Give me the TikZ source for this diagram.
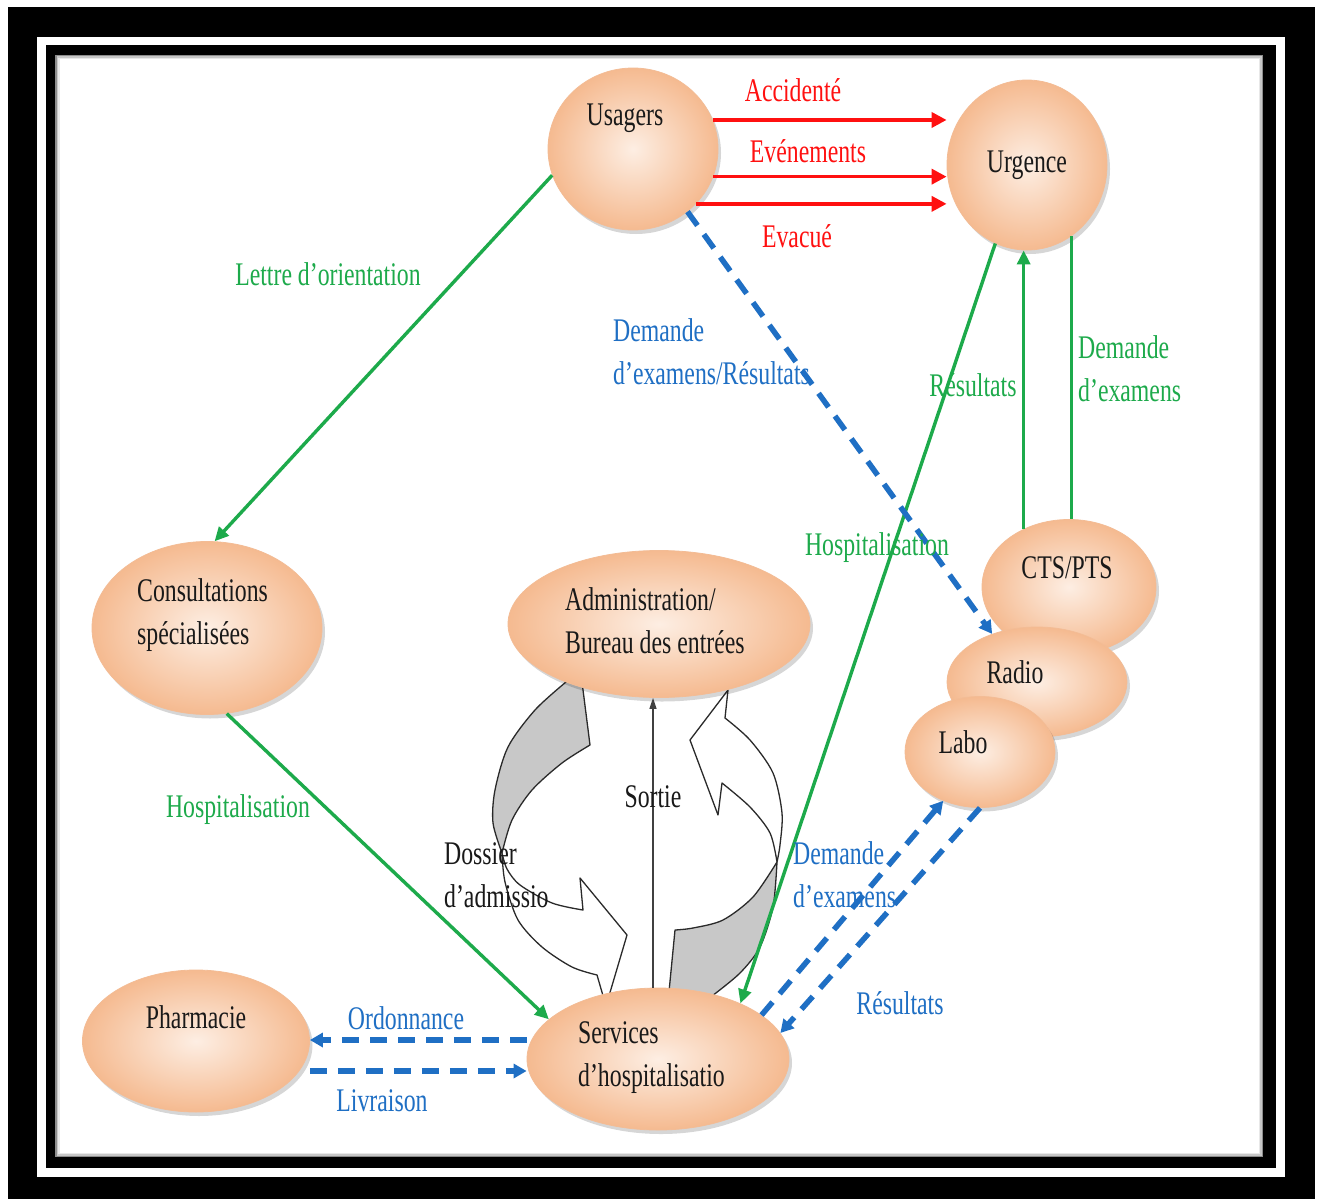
\documentclass[tikz,border=0pt]{standalone}
\usepackage{fontspec}
\setmainfont{Liberation Serif}[FakeStretch=0.72]
\usetikzlibrary{shapes.geometric,arrows.meta,shadows}

\definecolor{peachin}{HTML}{FDEEE3}
\definecolor{peachout}{HTML}{F5BA90}
\definecolor{peachrim}{HTML}{F3BC95}
\definecolor{flowgreen}{HTML}{1DAA4B}
\definecolor{flowblue}{HTML}{1F6FC4}
\definecolor{flowred}{HTML}{FF1010}
\definecolor{cyclegray}{HTML}{C8C8C8}
\definecolor{cycleline}{HTML}{2A2A2A}

\begin{document}
\begin{tikzpicture}[x=1pt,y=-1pt,
  blob/.style={ellipse, draw=peachrim, line width=0.8pt,
    inner color=peachin, outer color=peachout, inner sep=0pt,
    drop shadow={shadow xshift=3pt, shadow yshift=-4pt, opacity=0.16, fill=black}},
  txt/.style={font=\fontsize{33}{43}\selectfont, inner sep=0pt, align=left, text=black!90},
  redtxt/.style={txt, text=flowred},
  greentxt/.style={txt, text=flowgreen},
  bluetxt/.style={txt, text=flowblue},
  redflow/.style={draw=flowred, line width=3.6pt, -{Triangle[length=15pt,width=15pt]}},
  greenflow/.style={draw=flowgreen, line width=3.4pt, -{Triangle[length=14pt,width=13pt]}},
  greenplain/.style={draw=flowgreen, line width=3.4pt},
  blueflow/.style={draw=flowblue, line width=5.5pt, dash pattern=on 17pt off 11pt,
    -{Triangle[length=13pt,width=14pt]}},
  cyc/.style={draw=cycleline, line width=1.3pt, line join=round},
  sortie/.style={draw=black!75, line width=1.3pt, -{Triangle[length=11pt,width=7pt]}}
]
\useasboundingbox (0,0) rectangle (1322,1199);
\fill[white] (0,0) rectangle (1322,1199);

% double black frame
\fill[black] (8,7) rectangle (1315,1199);
\fill[white] (37,37) rectangle (1285,1177);
\fill[black] (46,45) rectangle (1276,1168);
\fill[white] (55,55) rectangle (1263,1157);
\foreach \d/\c in {0.75/45,2.25/22,3.75/9}
  \draw[black!\c, line width=1.5pt] (55+\d,55+\d) rectangle (1263-\d,1157-\d);

% circular arrows between the admission office and the wards
\draw[cyc, fill=cyclegray]
  plot[smooth] coordinates {(590,745) (562,763) (532,790) (512,820) (502,853)}
  -- plot[smooth] coordinates {(502,853) (493,823) (495,790) (508,747) (535,710) (566,682)}
  -- (582,682) -- cycle;
\draw[cyc, fill=white]
  plot[smooth] coordinates {(502,853) (507,869) (520,885) (552,903) (583,910)}
  -- (580,878) -- (627,935) -- (606,1006) -- (597,975)
  -- plot[smooth] coordinates {(597,975) (572,967) (542,947) (518,920) (505,882) (502,853)}
  -- cycle;
\draw[cyc, fill=white]
  (728,690) -- (725,718)
  -- plot[smooth] coordinates {(725,718) (750,740) (773,773) (782,813) (780,845) (777,862)}
  -- plot[smooth] coordinates {(777,862) (770,833) (750,807) (722,783)}
  -- (718,815) -- (690,740) -- cycle;
\draw[cyc, fill=cyclegray]
  plot[smooth] coordinates {(777,862) (753,897) (723,920) (693,928) (675,930)}
  -- (668,1002) -- (712,1002)
  -- plot[smooth] coordinates {(712,996) (740,973) (760,947) (773,907) (777,862)}
  -- cycle;

% services
\node[blob, minimum width=170pt, minimum height=162pt] (usagers) at (633,149) {};
\node[blob, minimum width=160pt, minimum height=170pt] (urgence) at (1027,165) {};
\node[blob, minimum width=230pt, minimum height=173pt] (consult) at (207,628) {};
\node[blob, minimum width=302pt, minimum height=147pt] (admin) at (659,624) {};
\node[blob, minimum width=174pt, minimum height=135pt] (cts) at (1069,587) {};
\node[blob, minimum width=180pt, minimum height=110pt] (radio) at (1037,682) {};
\node[blob, minimum width=150pt, minimum height=111pt] (labo) at (980,752) {};
\node[blob, minimum width=227pt, minimum height=142pt] (pharma) at (196,1041) {};
\node[blob, minimum width=262pt, minimum height=142pt] (services) at (658,1059) {};

% arrivals at the emergency unit
\draw[redflow] (usagers.20) -- (usagers.20 -| urgence.west);
\draw[redflow] (usagers.-19) -- (usagers.-19 -| urgence.west);
\draw[redflow] (usagers.-41) -- (usagers.-41 -| urgence.west);

% green flows
\draw[greenflow] (usagers.198) -- (consult.85);
\draw[greenflow] (consult.-77) -- (services.160);
\draw[greenflow] (urgence.-112) -- (services.34);
\draw[greenflow] (cts.128) -- (cts.128 |- urgence.south);
\draw[greenplain] (urgence.-58) -- (urgence.-58 |- cts.north);

% blue dashed flows
\draw[blueflow] (usagers.-49) -- (radio.133);
\draw[blueflow] (services.23) -- (labo.-127);
\draw[blueflow] (labo.-90) -- (services.12);
\draw[blueflow] ([yshift=19pt]services.west) -- ([yshift=19pt]services.west -| pharma.east);
\draw[blueflow] ([yshift=-30pt]pharma.east) -- ([yshift=-30pt]pharma.east -| services.west);

% discharge
\draw[sortie] ([xshift=-5pt]services.north) -- ([xshift=-5pt]services.north |- admin.south);

% node texts
\node[txt] (t-usagers) at (625,118) {Usagers};
\node[txt] (t-urgence) at (1027,165) {Urgence};
\node[txt, anchor=west] (t-consult) at (137,615) {Consultations\\spécialisées};
\node[txt, anchor=west] (t-admin) at (565,621) {Administration/\\Bureau des entrées};
\node[txt] (t-cts) at (1067,568) {CTS/PTS};
\node[txt] (t-radio) at (1015,672) {Radio};
\node[txt] (t-labo) at (963,742) {Labo};
\node[txt] (t-pharma) at (196,1017) {Pharmacie};
\node[txt, anchor=west] (t-services) at (578,1058) {Services\\d’hospitalisatio};

% flow labels
\node[redtxt] (l-acc) at (793,90) {Accidenté};
\node[redtxt] (l-evt) at (808,151) {Evénements};
\node[redtxt] (l-evac) at (797,236) {Evacué};
\node[greentxt] (l-lettre) at (328,274) {Lettre d’orientation};
\node[greentxt] (l-res-g) at (973,385) {Résultats};
\node[greentxt, anchor=west] (l-dem-g) at (1078,369) {Demande\\d’examens};
\node[greentxt] (l-hosp-r) at (877,548) {Hospitalisation};
\node[greentxt] (l-hosp-l) at (238,810) {Hospitalisation};
\node[bluetxt, anchor=west] (l-dem-u) at (613,352) {Demande\\d’examens/Résultats};
\node[bluetxt, anchor=west] (l-dem-l) at (793,875) {Demande\\d’examens};
\node[bluetxt] (l-res-b) at (900,1003) {Résultats};
\node[bluetxt] (l-ord) at (406,1018) {Ordonnance};
\node[bluetxt] (l-liv) at (382,1101) {Livraison};
\node[txt, anchor=west] (l-dossier) at (444,875) {Dossier\\d’admissio};
\node[txt] (l-sortie) at (653,797) {Sortie};
\end{tikzpicture}
\end{document}
